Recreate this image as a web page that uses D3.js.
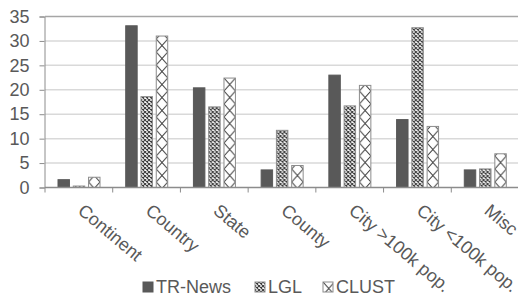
<!DOCTYPE html>
<html>
<head>
<meta charset="utf-8">
<script src="https://cdn.jsdelivr.net/npm/d3@7"></script>
<style>
  html, body { margin: 0; padding: 0; background: #fff; }
  svg { display: block; font-family: "Liberation Sans", Arial, sans-serif; }
</style>
</head>
<body>
<div id="chart"></div>
<script>
// Grouped bar chart: share of toponym types per corpus
const categories = ['Continent', 'Country', 'State', 'County', 'City >100k pop.', 'City <100k pop.', 'Misc'];
const series = ['TR-News', 'LGL', 'CLUST'];
const trNews = [1.6, 33.1, 20.4, 3.6, 23.0, 13.9, 3.6];
const lgl    = [0.3, 18.6, 16.5, 11.7, 16.7, 32.7, 3.8];
const clust  = [2.1, 31.0, 22.4, 4.5, 20.9, 12.5, 6.9];
const yTicks = [0, 5, 10, 15, 20, 25, 30, 35];

const values = { 'TR-News': trNews, 'LGL': lgl, 'CLUST': clust };
const width = 518, height = 298;
const textColor = '#595959';

const svg = d3.select('#chart').append('svg')
  .attr('width', width).attr('height', height);

// fill patterns
const defs = svg.append('defs');
const lglPat = defs.append('pattern').attr('id', 'pat-lgl')
  .attr('patternUnits', 'userSpaceOnUse').attr('width', 4).attr('height', 4);
lglPat.append('rect').attr('width', 4).attr('height', 4).attr('fill', '#fff');
lglPat.append('path').attr('d', 'M0,0L4,4M4,0L0,4')
  .attr('stroke', '#3a3a3a').attr('stroke-width', 1.1);

const clPat = defs.append('pattern').attr('id', 'pat-clust')
  .attr('patternUnits', 'userSpaceOnUse').attr('width', 11.5).attr('height', 13);
clPat.append('rect').attr('width', 11.5).attr('height', 13).attr('fill', '#fff');
clPat.append('path').attr('d', 'M0,0L11.5,13M11.5,0L0,13')
  .attr('stroke', '#404040').attr('stroke-width', 1);

const fills = { 'TR-News': '#595959', 'LGL': 'url(#pat-lgl)', 'CLUST': 'url(#pat-clust)' };
const strokes = { 'TR-News': '#595959', 'LGL': '#8c8c8c', 'CLUST': '#8c8c8c' };

const x0 = d3.scaleBand().domain(categories).range([45, 519]);
const x1 = d3.scaleBand().domain(series).range([13, 55]).paddingInner(0.25);
const y = d3.scaleLinear().domain([0, 35]).range([187.5, 16.5]);

// gridlines
svg.append('g').selectAll('line').data(yTicks.filter(d => d > 0)).join('line')
  .attr('x1', 45).attr('x2', 518)
  .attr('y1', d => y(d)).attr('y2', d => y(d))
  .attr('stroke', d => d === 35 ? '#a6a6a6' : '#d9d9d9')
  .attr('stroke-width', 1.5);

// y axis
const yAxis = svg.append('g').attr('transform', 'translate(44.5,0)')
  .call(d3.axisLeft(y).tickValues(yTicks).tickSize(5).tickPadding(10));
yAxis.select('.domain').attr('stroke', '#8c8c8c');
yAxis.selectAll('.tick line').attr('stroke', '#8c8c8c');
yAxis.selectAll('.tick text').attr('fill', textColor)
  .attr('font-size', 18).attr('font-family', '"Liberation Sans", Arial, sans-serif');

// bars
const groups = svg.append('g').selectAll('g').data(categories).join('g')
  .attr('transform', c => `translate(${x0(c)},0)`);
groups.selectAll('g').data((c, i) => series.map(s => ({ s, v: values[s][i] }))).join('g')
  .attr('transform', d => `translate(${x1(d.s)},0)`)
  .append('rect')
  .attr('x', 0).attr('width', x1.bandwidth())
  .attr('y', d => y(d.v)).attr('height', d => y(0) - y(d.v))
  .attr('fill', d => fills[d.s])
  .attr('stroke', d => strokes[d.s]).attr('stroke-width', 1);

// x axis
const xAxis = svg.append('g').attr('transform', `translate(0,${y(0)})`);
xAxis.append('line').attr('x1', 45).attr('x2', 518).attr('y1', 0).attr('y2', 0)
  .attr('stroke', '#8c8c8c').attr('stroke-width', 1.5);
xAxis.selectAll('line.tk').data(categories.map(c => x0(c)).concat([519])).join('line')
  .attr('class', 'tk')
  .attr('x1', d => d).attr('x2', d => d).attr('y1', 0).attr('y2', 5)
  .attr('stroke', '#8c8c8c');
xAxis.selectAll('text').data(categories).join('text')
  .attr('transform', c => `translate(${x0(c) + x0.bandwidth() / 2 - 2},${25}) rotate(40)`)
  .attr('fill', textColor).attr('font-size', 18)
  .text(c => c);

// legend
const legendItems = [
  { s: 'TR-News', x: 143 },
  { s: 'LGL', x: 255 },
  { s: 'CLUST', x: 323 },
];
const lg = svg.append('g').selectAll('g').data(legendItems).join('g')
  .attr('transform', d => `translate(${d.x},282)`);
lg.append('g').append('rect').attr('width', 10).attr('height', 10)
  .attr('fill', d => fills[d.s]).attr('stroke', d => strokes[d.s]);
lg.append('text').attr('x', 13).attr('y', 11)
  .attr('fill', textColor).attr('font-size', 18)
  .text(d => d.s);
</script>
</body>
</html>
